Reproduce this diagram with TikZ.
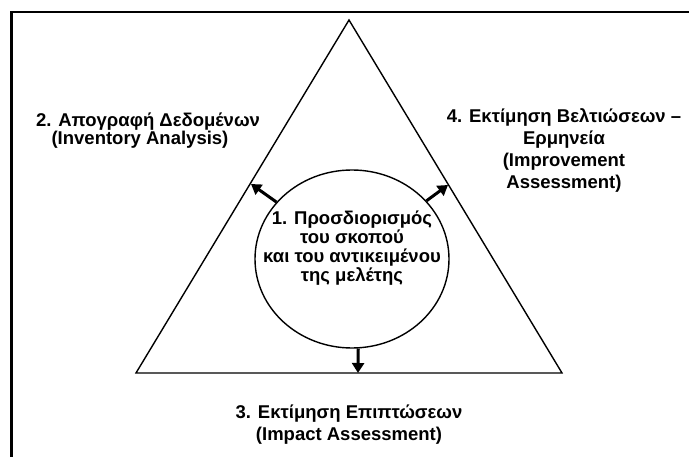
\documentclass[tikz,border=0pt]{standalone}
\usepackage{fontspec}
\setmainfont{Liberation Sans}
\usetikzlibrary{shapes.geometric,arrows.meta}
\begin{document}
\begin{tikzpicture}[x=1pt,y=-1pt,
  txt/.style={font=\bfseries\fontsize{18.5}{22}\selectfont, align=center, inner sep=0pt},
  edgeline/.style={line width=1.4pt},
  framestyle/.style={line width=2.5pt},
  bigarrow/.style={line width=3pt,-{Triangle[length=10pt,width=12pt]}}]
\useasboundingbox (0,0) rectangle (689,457);
\draw[framestyle] (11.7,457) -- (11.7,12) -- (689,12);
\coordinate (A) at (349,20);
\coordinate (B) at (136,373);
\coordinate (C) at (562,373);
\draw[edgeline,line join=miter] (A) -- (B) -- (C) -- cycle;
\node[draw,ellipse,line width=1.4pt,minimum width=194pt,minimum height=178pt,inner sep=0pt] (goal) at (352,259) {};
\node[txt,font=\bfseries\fontsize{18.5}{19}\selectfont,anchor=base] (goaltext) at (352,282)
  {1. Προσδιορισμός\\του σκοπού\\και του αντικειμένου\\της μελέτης};
\node[txt,font=\bfseries\fontsize{18.5}{18.5}\selectfont,anchor=base] (inv) at (148,145)
  {2. Απογραφή Δεδομένων\\(Inventory Analysis)\hspace*{16pt}};
\node[txt,anchor=base] (imp) at (349,440)
  {3. Εκτίμηση Επιπτώσεων\\(Impact Assessment)};
\node[txt,anchor=base] (impr) at (564,189)
  {4. Εκτίμηση Βελτιώσεων –\\Ερμηνεία\hspace*{28pt}\\(Improvement\\Assessment)};
\coordinate (tipL) at (251,184);
\coordinate (tipR) at (448,185);
\coordinate (tipB) at (358,373);
\draw[bigarrow] (goal.143) -- (tipL);
\draw[bigarrow] (goal.38) -- (tipR);
\draw[bigarrow] (goal.-86) -- (tipB);
\end{tikzpicture}
\end{document}
